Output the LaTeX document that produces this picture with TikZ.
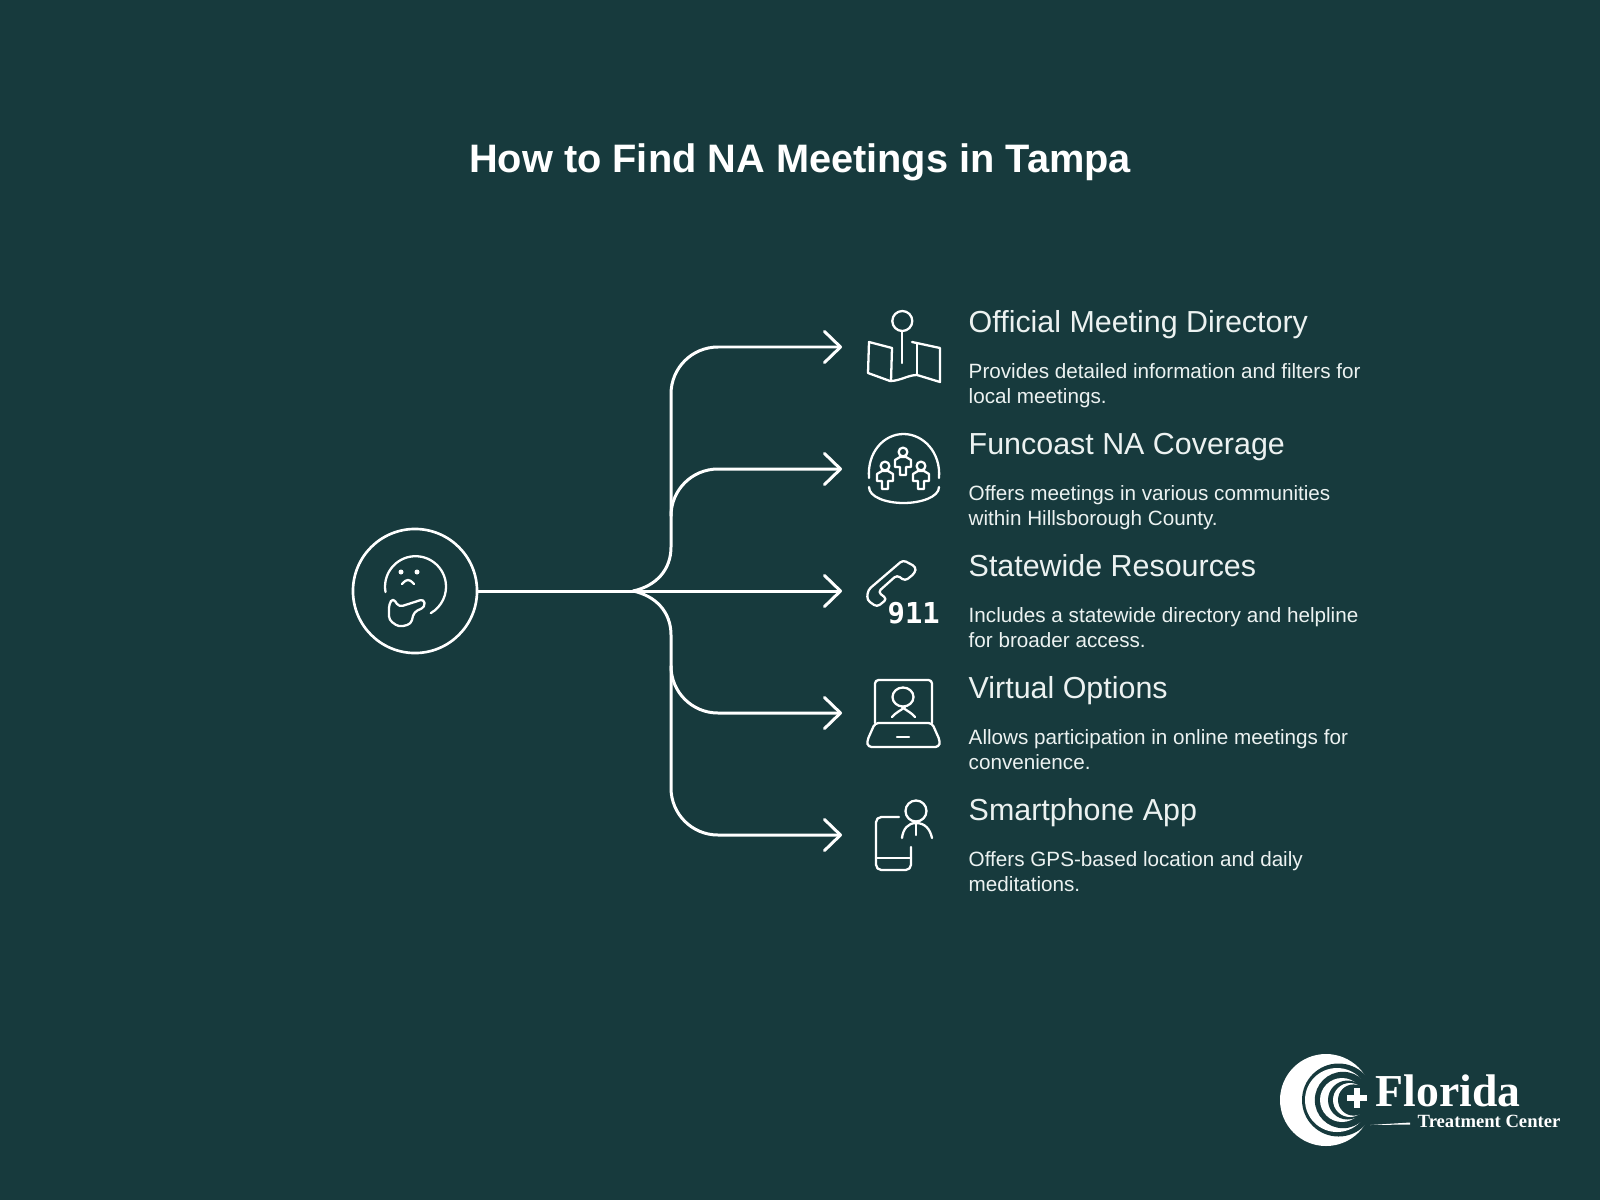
\documentclass[tikz,border=0pt]{standalone}
\usepackage{fontspec}
\setmainfont{Liberation Sans}
\newfontfamily\logofont{Liberation Serif}
\newfontfamily\numfont{DejaVu Sans Mono}
\usepackage{xcolor}
\usepackage{tikz}
\usetikzlibrary{arrows.meta}
\definecolor{FondoTeal}{RGB}{23,58,61}
\definecolor{TextoClaro}{RGB}{236,242,241}

\begin{document}
\begin{tikzpicture}[x=0.01cm,y=-0.01cm,
  flow/.style={draw=white,line width=0.85pt,line cap=round,-{Straight Barb[length=1.6mm,width=3.1mm,line width=0.85pt,round]}},
  ico/.style={draw=white,line width=0.65pt,line cap=round,line join=round},
  head/.style={anchor=base west,inner sep=0pt,text=TextoClaro,font=\fontsize{8.65}{10}\selectfont},
  body/.style={anchor=north west,inner sep=0pt,align=left,text=TextoClaro,font=\fontsize{5.88}{7}\selectfont}]
  \fill[FondoTeal] (0,0) rectangle (1600,1200);
  \useasboundingbox (0,0) rectangle (1600,1200);

  \node[anchor=base,inner sep=0pt,text=white,font=\fontsize{11.3}{13}\selectfont\bfseries] (title) at (800,172) {How to Find NA Meetings in Tampa};

  % tronco y ramas
  \node[draw=white,line width=0.75pt,circle,minimum size=1.24cm,inner sep=0pt] (hub) at (415,591) {};
  \coordinate (split) at (633,591);
  \coordinate (tipa) at (842,347);
  \coordinate (tipb) at (842,469);
  \coordinate (tipc) at (842,591);
  \coordinate (tipd) at (842,713);
  \coordinate (tipe) at (842,835);
  \draw[draw=white,line width=0.85pt] (hub.east) -- (split);
  \draw[flow] (split) -- (tipc);
  \draw[flow] (split) .. controls (656,586) and (671,570) .. (671,547) -- (671,394) .. controls (671,368) and (692,347) .. (718,347) -- (tipa);
  \draw[flow] (671,516) .. controls (671,490) and (692,469) .. (718,469) -- (tipb);
  \draw[flow] (split) .. controls (656,596) and (671,612) .. (671,635) -- (671,788) .. controls (671,814) and (692,835) .. (718,835) -- (tipe);
  \draw[flow] (671,666) .. controls (671,692) and (692,713) .. (718,713) -- (tipd);

  % cara pensativa
  \draw[ico] (385.5,592) arc (170:420:30.5);
  \fill[white] (401,572) circle (2.5);
  \fill[white] (417,572) circle (2.5);
  \draw[ico] (402,584) .. controls (405,581) and (406,580) .. (408,580) .. controls (410,580) and (411,581) .. (414,584);
  \draw[ico,rounded corners=1.1pt] (389,604) -- (393,598) -- (399,607) -- (424,599) -- (425,607) -- (414,612) -- (411,624) -- (399,627) -- (389,620) -- cycle;

  % mapa
  \draw[ico] (902.3,321) circle (10);
  \draw[ico] (902.3,331) -- (902.3,363);
  \draw[ico] (892,348) -- (869,342) -- (868,373) -- (890,381) .. controls (900,381) and (908,375) .. (917,375) -- (940,382) -- (940,348) -- (912,342);
  \draw[ico] (892,348) -- (891,381);
  \draw[ico] (917,343) -- (917,375);

  % comunidad
  \draw[ico] (869,478) .. controls (867,452) and (884,434) .. (903.5,434) .. controls (923,434) and (941,452) .. (939,478);
  \draw[ico] (869,487) .. controls (869,497) and (886,503) .. (903.5,503) .. controls (921,503) and (939,497) .. (939,487);
  \draw[ico] (903,452) circle (4.4);
  \draw[ico] (900,457) -- ++(-5,3) -- ++(0,7) -- ++(5,0) -- ++(0,8) -- ++(6,0) -- ++(0,-8) -- ++(5,0) -- ++(0,-7) -- ++(-5,-3) -- cycle;
  \draw[ico] (885,466) circle (4.4);
  \draw[ico] (882,471) -- ++(-5,3) -- ++(0,7) -- ++(5,0) -- ++(0,8) -- ++(6,0) -- ++(0,-8) -- ++(5,0) -- ++(0,-7) -- ++(-5,-3) -- cycle;
  \draw[ico] (921,466) circle (4.4);
  \draw[ico] (918,471) -- ++(-5,3) -- ++(0,7) -- ++(5,0) -- ++(0,8) -- ++(6,0) -- ++(0,-8) -- ++(5,0) -- ++(0,-7) -- ++(-5,-3) -- cycle;

  % telefono
  \draw[ico,rounded corners=1pt] (868,590) -- (903,560) -- (916,567) -- (915,573) -- (905,581) -- (897,575) -- (878,592) -- (887,599) -- (877,607) -- (867,600) -- cycle;
  \node[anchor=base west,inner sep=0pt,text=white,font=\fontsize{8.2}{9}\numfont\bfseries] (emerg) at (887,623) {911};

  % portatil
  \draw[ico,rounded corners=1pt] (875,723) -- (875,680) -- (932,680) -- (932,723);
  \draw[ico,rounded corners=1pt] (875,723) -- (932,723) -- (940,741) -- (939,747) -- (868,747) -- (867,741) -- cycle;
  \draw[ico] (897,737) -- (909,737);
  \draw[ico] (903,697) ellipse (10.5 and 9.5);
  \draw[ico] (892,717) .. controls (895,713) and (900,711) .. (905,707);
  \draw[ico] (915,717) .. controls (912,713) and (907,711) .. (902,707);

  % movil
  \draw[ico,rounded corners=1.5pt] (899,817) -- (876,817) -- (876,870) -- (911,870) -- (911,847);
  \draw[ico] (876,858) -- (911,858);
  \draw[ico] (916,811) circle (10.5);
  \draw[ico] (902,838) .. controls (903,829) and (908,823) .. (916,823) .. controls (925,823) and (930,829) .. (932,838);
  \draw[ico] (916,824) -- (916,835);

  % textos
  \node[head] (ta) at (968,332) {Official Meeting Directory};
  \node[body] (da) at (968,363) {Provides detailed information and filters for\\local meetings.};
  \node[head] (tb) at (968,454) {Funcoast NA Coverage};
  \node[body] (db) at (968,485) {Offers meetings in various communities\\within Hillsborough County.};
  \node[head] (tc) at (968,576) {Statewide Resources};
  \node[body] (dc) at (968,607) {Includes a statewide directory and helpline\\for broader access.};
  \node[head] (td) at (968,698) {Virtual Options};
  \node[body] (dd) at (968,729) {Allows participation in online meetings for\\convenience.};
  \node[head] (te) at (968,820) {Smartphone App};
  \node[body] (de) at (968,851) {Offers GPS-based location and daily\\meditations.};

  % logo
  \fill[white] (1326,1100) circle (46);
  \fill[FondoTeal] (1338.5,1100) circle (36.5);
  \fill[white] (1337,1100) circle (32);
  \fill[FondoTeal] (1343,1100) circle (28.2);
  \fill[white] (1342,1100) circle (22);
  \fill[FondoTeal] (1347.5,1100) circle (19.5);
  \fill[white] (1350,1100) circle (17);
  \fill[FondoTeal] (1353.6,1100) circle (15.6);
  \fill[FondoTeal] (1357,1098) circle (13);
  \fill[white] (1347,1095) rectangle (1367,1101);
  \fill[white] (1354,1088) rectangle (1360,1108);
  \fill[white] (1370,1125) -- (1410,1122.5) -- (1410,1124.5) -- cycle;
  \node[anchor=base west,inner sep=0pt,text=white,font=\fontsize{13}{15}\logofont\bfseries] (brand) at (1375,1106) {Florida};
  \node[anchor=base west,inner sep=0pt,text=white,font=\fontsize{5.3}{6}\logofont\bfseries] (subbrand) at (1417,1127) {Treatment Center};
\end{tikzpicture}
\end{document}
